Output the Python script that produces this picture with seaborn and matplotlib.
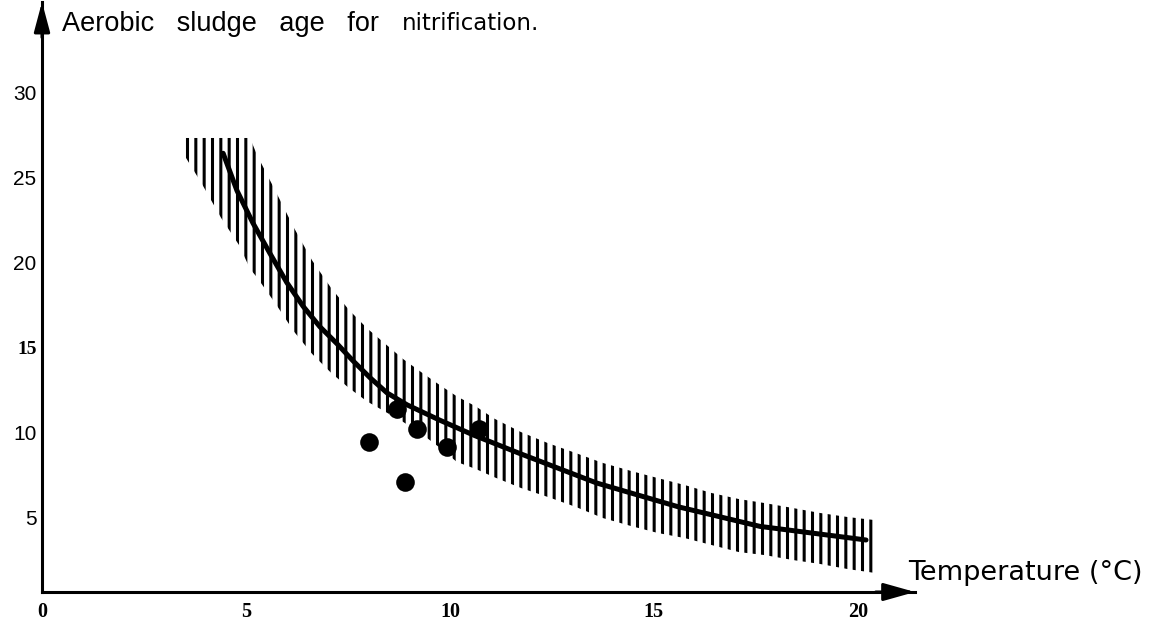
import numpy as np
import pandas as pd
import matplotlib
matplotlib.use("Agg")
import matplotlib.pyplot as plt
import seaborn as sns

# ---- data ----
curve_x = [4.44, 4.78, 5.17, 5.59, 6.0, 6.4, 6.81, 7.23, 7.62, 8.04, 8.46, 8.95,
           9.75, 10.6, 11.7, 13.6, 15.6, 17.6, 20.2]
curve_y = [26.4, 24.2, 22.3, 20.5, 18.8, 17.4, 16.2, 15.2, 14.2, 13.2, 12.3, 11.6,
           10.7, 9.8, 8.75, 7.0, 5.6, 4.45, 3.65]

band_x = [3.46, 3.92, 4.39, 4.83, 5.10, 5.27, 5.74, 6.18, 6.62, 7.08, 7.52, 7.97,
          8.41, 8.85, 9.31, 9.73, 10.17, 10.64, 11.08, 11.74, 12.40, 13.09, 13.75,
          14.44, 15.10, 15.76, 16.42, 17.08, 17.72, 18.41, 19.07, 19.75, 20.42]
band_hi = [27.3, 27.3, 27.3, 27.3, 27.3, 26.3, 24.1, 22.0, 20.1, 18.5, 17.2, 16.1,
           15.2, 14.3, 13.5, 12.8, 12.1, 11.5, 10.8, 10.0, 9.35, 8.76, 8.18,
           7.71, 7.29, 6.88, 6.41, 6.06, 5.82, 5.53, 5.24, 5.0, 4.82]
band_lo = [26.4, 24.6, 22.6, 21.0, 19.6, 19.1, 17.5, 15.9, 14.6, 13.5, 12.6, 11.8,
           11.2, 10.6, 9.88, 9.12, 8.24, 7.82, 7.35, 6.71, 6.18, 5.59, 4.94,
           4.47, 4.06, 3.76, 3.35, 2.94, 2.76, 2.47, 2.24, 1.94, 1.71]

obs_x = [8.01, 8.9, 8.7, 9.2, 9.93, 10.7]
obs_y = [9.4, 7.06, 11.35, 10.2, 9.1, 10.2]

xticks = [0, 5, 10, 15, 20]
xtick_labels = ["0", "5", "10", "15", "20"]
yticks = [5, 10, 15, 20, 25, 30]
ytick_labels = ["5", "10", "15", "20", "25", "30"]

title_a = "Aerobic   sludge   age   for"
title_b = "nitrification."
xlabel = "Temperature (°C)"

# ---- plotting ----
sns.set_theme(style="white")
plt.rcParams["font.family"] = ["Liberation Sans", "DejaVu Sans"]
plt.rcParams["hatch.linewidth"] = 2.2
plt.rcParams["hatch.color"] = "black"

W, H = 1158, 624
fig = plt.figure(figsize=(W / 100, H / 100), dpi=100)
ax = fig.add_axes([42 / W, 1 - 592 / H, (915 - 42) / W, (592 - 2) / H])
ax.set_xlim(0, 21.4)
ax.set_ylim(0.59, 35.3)

ax.fill_between(band_x, band_lo, band_hi, facecolor="none", edgecolor="black",
                hatch="||", linewidth=0)

curve_df = pd.DataFrame({"T": curve_x, "age": curve_y})
sns.lineplot(data=curve_df, x="T", y="age", color="black", linewidth=3.6, ax=ax,
             sort=True, estimator=None)
obs_df = pd.DataFrame({"T": obs_x, "age": obs_y})
sns.scatterplot(data=obs_df, x="T", y="age", color="black", s=180,
                edgecolor="black", linewidth=0, ax=ax, zorder=5)

for s in ["top", "right"]:
    ax.spines[s].set_visible(False)
for s in ["left", "bottom"]:
    ax.spines[s].set_color("black")
    ax.spines[s].set_linewidth(2.2)

ax.set_xticks(xticks)
ax.set_xticklabels(xtick_labels, family="Liberation Serif", fontsize=14.5, fontweight="bold")
ax.set_yticks(yticks)
ax.set_yticklabels(ytick_labels, family="Liberation Sans", fontsize=15)
for lab in ax.get_yticklabels():
    if lab.get_text() == "15":
        lab.set_family("Liberation Serif")
        lab.set_fontweight("bold")
        lab.set_fontsize(14)
ax.tick_params(axis="y", direction="in", length=8, width=1.5, pad=4, colors="black")
ax.tick_params(axis="x", direction="in", length=5, width=2, pad=7, colors="black")
ax.set_xlabel("")
ax.set_ylabel("")

# arrowheads on the axes
ax.annotate("", xy=(1.0, 0), xytext=(0.955, 0), xycoords="axes fraction",
            arrowprops=dict(arrowstyle="-|>,head_length=1.6,head_width=0.45",
                            color="black", lw=2.2, shrinkA=0, shrinkB=0),
            annotation_clip=False)
ax.annotate("", xy=(0, 1.0), xytext=(0, 0.94), xycoords="axes fraction",
            arrowprops=dict(arrowstyle="-|>,head_length=1.5,head_width=0.4",
                            color="black", lw=2.2, shrinkA=0, shrinkB=0),
            annotation_clip=False)

fig.text(62 / W, 1 - 24 / H, title_a, fontsize=19.5, family="Liberation Sans",
         ha="left", va="center", color="black")
fig.text(402 / W, 1 - 24 / H, title_b, fontsize=16.5, family="DejaVu Sans",
         ha="left", va="center", color="black")
fig.text(908 / W, 1 - 573 / H, xlabel, fontsize=19.5, family="DejaVu Sans",
         ha="left", va="center", color="black")

fig.savefig("out.png", dpi=100)
